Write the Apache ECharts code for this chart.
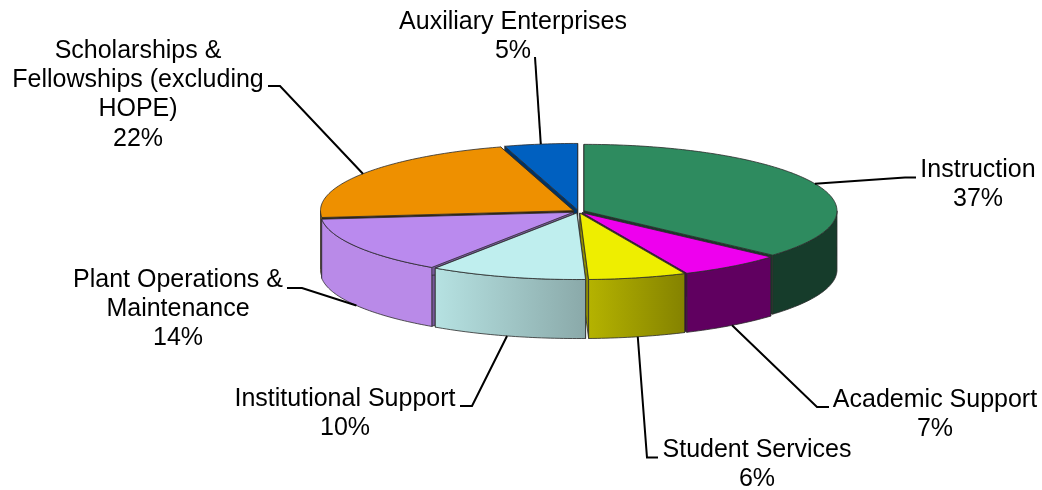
<!DOCTYPE html>
<html><head><meta charset="utf-8">
<style>html,body{margin:0;padding:0;background:#fff}#c{width:1042px;height:490px}</style>
<script src="https://cdn.jsdelivr.net/npm/echarts@6/dist/echarts.min.js"></script>
</head><body><div id="c"></div>
<script>
const categories = ['Instruction','Academic Support','Student Services','Institutional Support','Plant Operations &\nMaintenance','Scholarships &\nFellowships (excluding\nHOPE)','Auxiliary Enterprises'];
const shares = [36.6,6.6,6.25,10,13.9,22,4.65];

const topColors = ['#2E8B5F','#EE00EE','#EEEE00','#BFEEEE','#BA8AEE','#EE9000','#0060C0'];
const wallFrom  = ['#163C2B','#600060','#B5B300','#B6E2E2','#B98AE8','#B87000','#003366'];
const wallTo    = ['#163C2B','#600060','#848200','#8AA9A9','#B98AE8','#B87000','#003366'];
const cutColors = ['#163C2B','#4A004A','#8E8C00','#7FA0A0','#77589A','#3A2400','#003366'];
// Back-to-front paint order of the slices
const paintRank = [3,5,6,7,4,2,1];
// Label layout: text centre and first-line y, then the leader's elbow and end
const labelX = [978,935,757,345,178,138,513];
const labelY = [170,400,450,399,280,51,22];
const elbows = [[905,177.5],[817,407],[647,457.5],[472,406],[302,288],[280,86],[535,57]];
const ends   = [[916,177.5],[829,407],[658,457.5],[460,406],[287,288],[268,86],[535,57]];

const CX=578.5, CY=211.5, RX=253, RY=66.5, DEPTH=59, EXPLODE=6, LH=29.3, FONT_SIZE=25;
const total = shares.reduce((a,b)=>a+b,0);
const rad = d=>d*Math.PI/180;

function renderItem(params, api){
  const i = params.dataIndex;
  let before = 0;
  for(let k=0;k<i;k++) before += shares[k];
  const value = api.value(0);
  const a0 = before/total*360, a1 = (before+value)/total*360, mid=(a0+a1)/2;
  const ox = CX+EXPLODE*Math.sin(rad(mid)), oy = CY-EXPLODE*RY/RX*Math.cos(rad(mid));
  const P = (a,d=0)=>[ox+RX*Math.sin(rad(a)), oy-RY*Math.cos(rad(a))+d];
  const arc = (s,e)=>{const o=[],n=Math.max(2,Math.ceil(Math.abs(e-s)));for(let k=0;k<=n;k++)o.push(s+(e-s)*k/n);return o;};
  const z = paintRank[i]*10;
  const edge = {stroke:'#2b2b2b',lineWidth:0.8,lineJoin:'round'};
  const children = [];
  const face = a=>({type:'polygon',z2:z,shape:{points:[[ox,oy],P(a),P(a,DEPTH),[ox,oy+DEPTH]]},style:{fill:cutColors[i],...edge}});
  children.push(face(a0),face(a1));
  const w0=Math.max(a0,90), w1=Math.min(a1,270);
  if(w1>w0){
    const pts=arc(w0,w1);
    children.push({type:'polygon',z2:z+1,shape:{points:pts.map(a=>P(a)).concat(pts.slice().reverse().map(a=>P(a,DEPTH)))},
      style:{fill:{type:'linear',x:0,y:0,x2:1,y2:0,colorStops:[{offset:0,color:wallFrom[i]},{offset:1,color:wallTo[i]}]},...edge}});
  }
  children.push({type:'polygon',z2:z+2,shape:{points:[[ox,oy]].concat(arc(a0,a1).map(a=>P(a)))},style:{fill:topColors[i],...edge}});
  const lower = Math.cos(rad(mid))<0;
  const start = P(mid, lower?DEPTH:0);
  children.push({type:'polyline',z2:5000,shape:{points:[start,elbows[i],ends[i]]},style:{fill:'none',stroke:'#000',lineWidth:2}});
  const lines = api.value(1).split('\n').concat([Math.round(value)+'%']);
  lines.forEach((t,k)=>children.push({type:'text',z2:5001,style:{text:t,x:labelX[i],y:labelY[i]+k*LH,fill:'#000',
    font:FONT_SIZE+'px "Liberation Sans", Arial, sans-serif',textAlign:'center',textVerticalAlign:'middle'}}));
  return {type:'group',children};
}

const chart = echarts.init(document.getElementById('c'),null,{renderer:'canvas'});
chart.setOption({
  animation:false,
  backgroundColor:'#fff',
  series:[{type:'custom',coordinateSystem:'none',silent:true,renderItem,
    encode:{value:0},
    data:shares.map((v,i)=>[v,categories[i]])}]
});
</script></body></html>
